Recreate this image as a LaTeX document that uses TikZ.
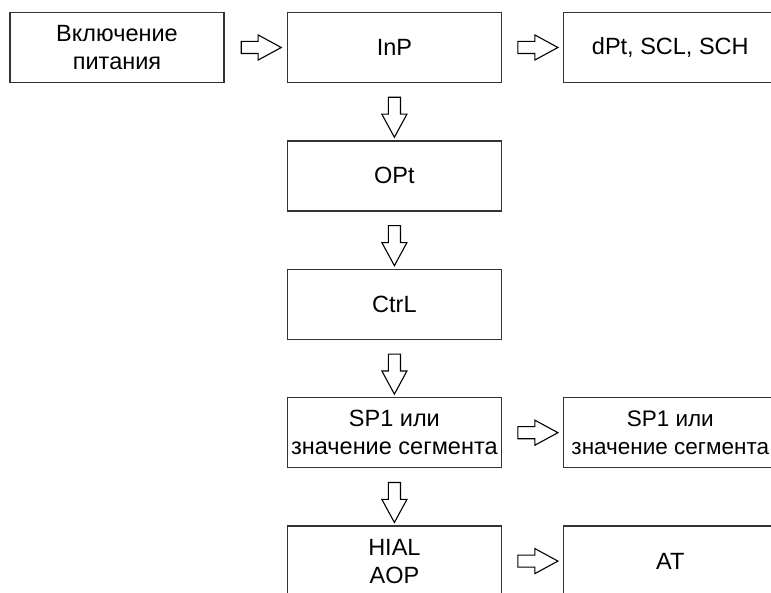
\documentclass[tikz,border=0pt]{standalone}
\usepackage{fontspec}
\setmainfont{Liberation Sans}
\usetikzlibrary{positioning,calc,shapes.arrows}

\begin{document}
\begin{tikzpicture}[x=1pt,y=-1pt,
  box/.style={draw=black!80, line width=1.4pt, minimum width=214pt, minimum height=70pt, align=center, inner sep=0pt, font=\fontsize{23.5}{28}\selectfont},
  blockarrow/.style={single arrow, draw=black, line width=1.1pt, fill=white, minimum height=40pt, inner xsep=0pt, inner ysep=5.5pt, single arrow head extend=6.5pt, single arrow tip angle=57},
  downarrow/.style={blockarrow, inner xsep=5.5pt, inner ysep=0pt, shape border rotate=270}]
\useasboundingbox (0,0) rectangle (771,593);
\clip (0,0) rectangle (771,593);
% boxes
\node[box] (pwr) at (117,47.5) {Включение\\питания};
\node[box, right=62pt of pwr] (inp) {InP};
\node[box, right=60.5pt of inp] (scale) {dPt, SCL, SCH};
\node[box, below=57pt of inp] (opt) {OPt};
\node[box, below=57pt of opt] (ctrl) {CtrL};
\node[box, below=57pt of ctrl] (sp) {SP1 или\\значение сегмента};
\node[box, right=60.5pt of sp, font=\fontsize{22.5}{28}\selectfont] (sp2) {SP1 или\\значение сегмента};
\node[box, below=57pt of sp] (hial) {HIAL\\AOP};
\node[box, right=60.5pt of hial] (at) {AT};
% arrows
\node[blockarrow] (a1) at ($(pwr.east)!0.5!(inp.west)$) {};
\node[blockarrow] (a2) at ($(inp.east)!0.5!(scale.west)$) {};
\node[blockarrow] (a3) at ($(sp.east)!0.5!(sp2.west)$) {};
\node[blockarrow] (a4) at ($(hial.east)!0.5!(at.west)$) {};
\node[downarrow] (d1) at ($(inp.south)!0.5!(opt.north)$) {};
\node[downarrow] (d2) at ($(opt.south)!0.5!(ctrl.north)$) {};
\node[downarrow] (d3) at ($(ctrl.south)!0.5!(sp.north)$) {};
\node[downarrow] (d4) at ($(sp.south)!0.5!(hial.north)$) {};
\end{tikzpicture}
\end{document}
